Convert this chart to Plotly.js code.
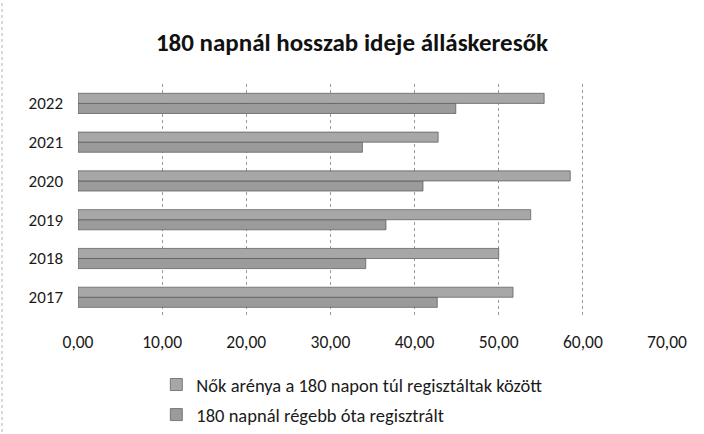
<!DOCTYPE html>
<html>
<head>
<meta charset="utf-8">
<script src="https://cdn.plot.ly/plotly-3.0.1.min.js"></script>
<style>
  html, body { margin: 0; padding: 0; background: #fff; }
  #chart { width: 704px; height: 434px; }
</style>
</head>
<body>
<div id="chart"></div>
<script>
const years = ['2017', '2018', '2019', '2020', '2021', '2022'];
const nokAranya = [51.7, 50.0, 53.8, 58.5, 42.8, 55.4];
const regebbOta = [42.7, 34.2, 36.6, 41.0, 33.8, 44.9];
const seriesNames = ['Nők arénya a 180 napon túl regisztáltak között', '180 napnál régebb óta regisztrált'];
const xTicks = [0, 10, 20, 30, 40, 50, 60, 70];

const FONT = 'Carlito, Lato, "Liberation Sans", sans-serif';

const traces = [
  {
    type: 'bar', orientation: 'h',
    y: years, x: regebbOta, name: seriesNames[1], legendgroup: 'b', legendrank: 2,
    marker: {
      color: '#a0a0a0',
      line: { color: '#555555', width: 0.7 },
      pattern: { shape: '.', fgcolor: '#808080', bgcolor: '#b0b0b0', size: 2, solidity: 0.5 }
    },
    hoverinfo: 'skip'
  },
  {
    type: 'bar', orientation: 'h',
    y: years, x: nokAranya, name: seriesNames[0], legendgroup: 'a', legendrank: 1,
    marker: {
      color: '#aaaaaa',
      line: { color: '#555555', width: 0.7 },
      pattern: { shape: '.', fgcolor: '#8c8c8c', bgcolor: '#bdbdbd', size: 2, solidity: 0.5 }
    },
    hoverinfo: 'skip'
  }
];

// paper spans y 84..434 (350px); plot area bottom at 318
const layout = {
  width: 704, height: 434,
  margin: { l: 78, r: 37, t: 84, b: 0, pad: 0 },
  paper_bgcolor: '#ffffff', plot_bgcolor: '#ffffff',
  font: { family: FONT, size: 17, color: '#1a1a1a' },
  separators: ', ',
  title: {
    text: '<b>180 napnál hosszab ideje álláskeresők</b>',
    font: { family: FONT, size: 25, color: '#111111' },
    x: 0.5, xref: 'container', xanchor: 'center',
    y: 46, yref: 'container', yanchor: 'middle'
  },
  barmode: 'group',
  bargap: 0.48, bargroupgap: 0,
  xaxis: {
    range: [0, 70],
    tickvals: xTicks,
    tickformat: '.2f',
    showgrid: true, gridcolor: '#9a9a9a', gridwidth: 1, griddash: 'dot',
    zeroline: false, showline: false, ticks: '',
    ticklabelstandoff: 13,
    tickfont: { family: FONT, size: 17.5, color: '#1a1a1a' },
    automargin: false,
    fixedrange: true
  },
  yaxis: {
    type: 'category',
    domain: [0.3314, 1],
    categoryorder: 'array', categoryarray: years,
    showgrid: false, zeroline: false, showline: false, ticks: '',
    ticklabelstandoff: 14,
    tickfont: { family: FONT, size: 17, color: '#1a1a1a' },
    automargin: false,
    fixedrange: true
  },
  showlegend: true,
  legend: {
    orientation: 'v', traceorder: 'grouped', tracegroupgap: 3,
    x: 0.133, xanchor: 'left', y: 0.1886, yanchor: 'top',
    font: { family: FONT, size: 18.5, color: '#1a1a1a' },
    bgcolor: 'rgba(0,0,0,0)', itemwidth: 30
  },
  shapes: [
    { type: 'line', xref: 'paper', yref: 'paper', x0: -0.129, x1: -0.129, y0: 0, y1: 1.24,
      line: { color: '#b0b0b0', width: 1, dash: 'dot' } }
  ]
};

Plotly.newPlot('chart', traces, layout, { displayModeBar: false, staticPlot: true });
</script>
</body>
</html>
